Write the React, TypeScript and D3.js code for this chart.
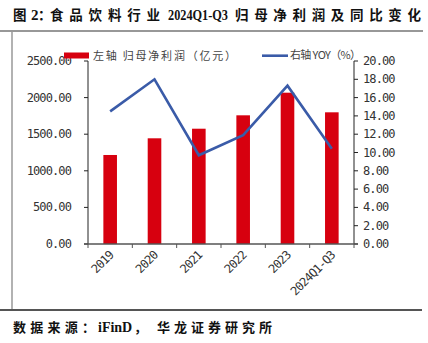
import React from "react";
import * as d3 from "d3";

const categories = ["2019", "2020", "2021", "2022", "2023", "2024Q1-Q3"];
const profit = [1216, 1444, 1575, 1758, 2067, 1799];
const yoy = [14.5, 18.0, 9.7, 11.9, 17.3, 10.4];
const leftTicks = [0, 500, 1000, 1500, 2000, 2500];
const rightTicks = [0, 2, 4, 6, 8, 10, 12, 14, 16, 18, 20];

const W = 428;
const H = 343;
const plot = { left: 88, right: 354, top: 61, bottom: 244 };
const RED = "#D7000F";
const BLUE = "#3A5BA8";
const monoFont = "'DejaVu Sans Mono', monospace";
const cjkFont = "'Noto Sans CJK SC', sans-serif";
const titleFont = "'Liberation Serif', 'Noto Sans CJK SC', serif";

export default function App() {
  const x = d3.scaleBand<string>().domain(categories).range([plot.left, plot.right]);
  const yL = d3.scaleLinear().domain([0, 2500]).range([plot.bottom, plot.top]);
  const yR = d3.scaleLinear().domain([0, 20]).range([plot.bottom, plot.top]);
  const barW = 13.6;
  const cx = (c: string) => (x(c) as number) + x.bandwidth() / 2;
  const line = d3
    .line<number>()
    .x((_, i) => cx(categories[i]))
    .y((d) => yR(d));
  const boundaries = categories.map((c) => x(c) as number).concat([plot.right]);

  return (
    <svg
      width={W}
      height={H}
      style={{ position: "absolute", left: 0, top: 0, background: "#fff" }}
    >
      {/* frame */}
      <line x1={0} x2={423} y1={31} y2={31} stroke="#333" strokeWidth={1.2} />
      <line x1={12} x2={12} y1={31} y2={310} stroke="#999" strokeWidth={1.5} />
      <line x1={0} x2={422} y1={310} y2={310} stroke="#555" strokeWidth={2} />

      {/* title */}
      <g fontWeight="bold" fill="#111">
        <text x={13} y={20} fontSize={13.5} fontFamily={cjkFont}>图</text>
        <text x={31} y={20} fontSize={15} fontFamily={titleFont}>2</text>
        <text x={38} y={20} fontSize={13.5} fontFamily={cjkFont}>：</text>
        <text x={50} y={20} fontSize={13.5} fontFamily={cjkFont} textLength={110} lengthAdjust="spacing">食品饮料行业</text>
        <text x={168} y={20} fontSize={15} fontFamily={titleFont} textLength={60} lengthAdjust="spacingAndGlyphs">2024Q1-Q3</text>
        <text x={235} y={20} fontSize={13.5} fontFamily={cjkFont} textLength={186} lengthAdjust="spacing">归母净利润及同比变化</text>
      </g>

      {/* source */}
      <g fontWeight="bold" fill="#111">
        <text x={13} y={332} fontSize={13} fontFamily={cjkFont} textLength={82} lengthAdjust="spacing">数据来源：</text>
        <text x={98} y={332} fontSize={14} fontFamily={titleFont}>iFinD</text>
        <text x={134} y={332} fontSize={13} fontFamily={cjkFont}>，</text>
        <text x={157} y={332} fontSize={13} fontFamily={cjkFont} textLength={115} lengthAdjust="spacing">华龙证券研究所</text>
      </g>

      {/* bars */}
      {categories.map((c, i) => (
        <rect
          key={c}
          x={cx(c) - barW / 2}
          y={yL(profit[i])}
          width={barW}
          height={plot.bottom - yL(profit[i])}
          fill={RED}
        />
      ))}

      {/* line */}
      <path d={line(yoy) || ""} fill="none" stroke={BLUE} strokeWidth={2.6} strokeLinejoin="miter" />

      {/* left axis */}
      <line x1={plot.left} x2={plot.left} y1={plot.top} y2={plot.bottom} stroke="#222" strokeWidth={1} />
      {leftTicks.map((t) => (
        <g key={t}>
          <line x1={plot.left - 4} x2={plot.left} y1={yL(t)} y2={yL(t)} stroke="#222" />
          <text
            x={71}
            y={yL(t) + 4}
            textAnchor="end"
            fontSize={12}
            letterSpacing={-0.9}
            fontFamily={monoFont}
            fill="#333"
          >
            {t.toFixed(2)}
          </text>
        </g>
      ))}

      {/* right axis */}
      <line x1={plot.right} x2={plot.right} y1={plot.top} y2={plot.bottom} stroke="#222" strokeWidth={1} />
      {rightTicks.map((t) => (
        <g key={t}>
          <line x1={plot.right} x2={plot.right + 4} y1={yR(t)} y2={yR(t)} stroke="#222" />
          <text
            x={363}
            y={yR(t) + 4}
            fontSize={12}
            letterSpacing={-0.9}
            fontFamily={monoFont}
            fill="#333"
          >
            {t.toFixed(2)}
          </text>
        </g>
      ))}

      {/* x axis */}
      <line x1={plot.left - 4} x2={plot.right + 4} y1={plot.bottom} y2={plot.bottom} stroke="#555" strokeWidth={1.6} />
      {boundaries.map((b, i) => (
        <line key={i} x1={b} x2={b} y1={plot.bottom} y2={plot.bottom + 4} stroke="#555" />
      ))}
      {categories.map((c) => (
        <text
          key={c}
          transform={`translate(${cx(c) + 4},${plot.bottom + 12}) rotate(-45)`}
          textAnchor="end"
          fontSize={12}
          letterSpacing={-0.9}
          fontFamily={monoFont}
          fill="#333"
        >
          {c}
        </text>
      ))}

      {/* legend */}
      <rect x={64} y={52.5} width={25} height={6} fill={RED} />
      <text x={93} y={60} fontSize={11} fontFamily={cjkFont} fill="#444" textLength={143} lengthAdjust="spacing">
        左轴 归母净利润（亿元）
      </text>
      <line x1={262} x2={288} y1={55.7} y2={55.7} stroke={BLUE} strokeWidth={2.6} />
      <text x={290} y={59} fontSize={11} fontFamily={cjkFont} fill="#444" textLength={71} lengthAdjust="spacing">
        右轴 YOY（%）
      </text>
    </svg>
  );
}
